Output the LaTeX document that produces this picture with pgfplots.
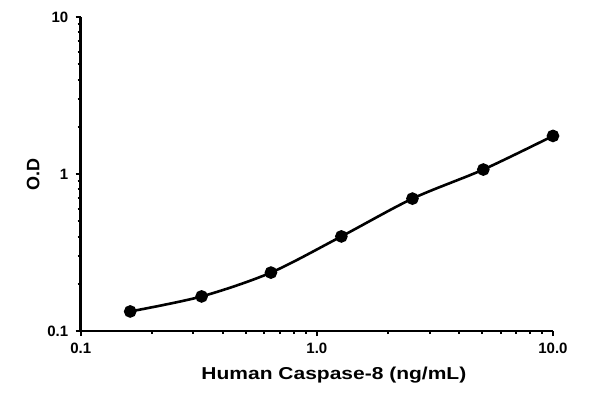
\documentclass[border=0pt]{standalone}
\usepackage{pgfplots}
\pgfplotsset{compat=1.18}
\usepackage{fontspec}
\setmainfont{Liberation Sans}
\newfontfamily\widefont[FakeStretch=1.22]{Liberation Sans}
\begin{document}
\begin{tikzpicture}[x=1pt,y=1pt]
\begin{loglogaxis}[
  name=ax,
  scale only axis,
  width=472pt, height=314pt,
  xmin=0.1, xmax=10, ymin=0.1, ymax=10,
  axis x line*=bottom, axis y line*=left,
  axis line style={line width=2.6pt},
  tick align=outside,
  major tick length=5pt, minor tick length=3pt,
  every tick/.style={black, line width=2pt},
  xtick={0.1,1,10}, xticklabels={0.1,1.0,10.0},
  ytick={0.1,1,10}, yticklabels={0.1,1,10},
  ticklabel style={font=\bfseries\fontsize{15}{15}\selectfont},
  xticklabel style={yshift=-3pt},
  yticklabel style={xshift=-4pt},
  xlabel={\widefont\bfseries Human Caspase-8 (ng/mL)},
  ylabel={\bfseries O.D},
  xlabel style={font=\widefont\bfseries\fontsize{17.2}{17.2}\selectfont, xshift=17pt, yshift=-6.5pt},
  ylabel style={font=\bfseries\fontsize{18}{18}\selectfont, yshift=1pt},
  clip=false,
]
\addplot[black, line width=2.6pt, smooth, mark=*, mark size=5pt] coordinates {
(0.162,0.1335) (0.325,0.1664) (0.639,0.236) (1.27,0.401) (2.54,0.698) (5.07,1.069) (10.0,1.75)
};
\end{loglogaxis}
\pgfresetboundingbox
\path (ax.south west) ++(-80.7pt,-61.3pt) rectangle ([shift={(43pt,17pt)}]ax.north east);
\end{tikzpicture}
\end{document}
